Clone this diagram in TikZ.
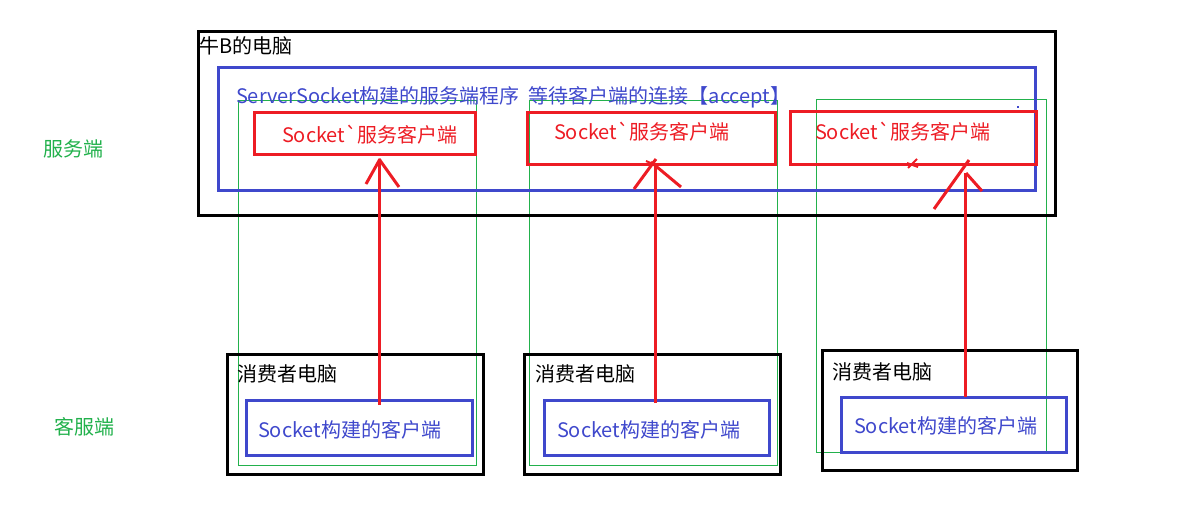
\documentclass[tikz,border=0pt]{standalone}
\usepackage{fontspec}
\newfontfamily\cjk{Noto Sans CJK SC}
\definecolor{pblue}{HTML}{3F48CC}
\definecolor{pred}{HTML}{ED1C24}
\definecolor{pgreen}{HTML}{22B14C}
\begin{document}
\begin{tikzpicture}[x=1pt,y=-1pt,
  every node/.style={inner sep=0pt,outer sep=0pt},
  machine/.style={draw=black,line width=3pt},
  program/.style={draw=pblue,line width=3pt},
  conn/.style={draw=pred,line width=3pt},
  zone/.style={draw=pgreen,line width=1pt},
  txt/.style={anchor=base west,font=\cjk\fontsize{20}{24}\selectfont},
  stroke/.style={draw=pred,line width=3pt}
]
\useasboundingbox (0,0) rectangle (1200,507);

% thin green outlines grouping each client with its server socket
\node[zone,minimum width=238,minimum height=365] (g1) at (357.5,283) {};
\node[zone,minimum width=248,minimum height=365] (g2) at (653.5,283) {};
\node[zone,minimum width=230,minimum height=353] (g3) at (931.5,276) {};

% server machine and its program
\node[machine,minimum width=857,minimum height=184] (server) at (626.5,123) {};
\node[program,minimum width=817,minimum height=123.5] (srvprog) at (627,128.75) {};
\node[txt,text=black] (servertitle) at (199,53) {牛B的电脑};
\node[txt,text=pblue] (progtitle) at (236,103.5) {ServerSocket构建的服务端程序\ \ 等待客户端的连接【accept】};

% per-connection sockets on the server side
\node[conn,minimum width=221,minimum height=42.5] (s1) at (364.5,133.25) {};
\node[conn,minimum width=248,minimum height=52] (s2) at (651,138) {};
\node[conn,minimum width=246.5,minimum height=52.5] (s3) at (913.25,137.75) {};
\node[txt,text=pred] (s1t) at (282,142.5) {Socket`服务客户端};
\node[txt,text=pred] (s2t) at (554,139) {Socket`服务客户端};
\node[txt,text=pred] (s3t) at (815,139) {Socket`服务客户端};

% consumer machines
\node[machine,minimum width=256,minimum height=120] (m1) at (355,414) {};
\node[machine,minimum width=255.5,minimum height=120] (m2) at (652.25,414) {};
\node[machine,minimum width=255.5,minimum height=120] (m3) at (949.75,410.5) {};
\node[txt,text=black] (m1t) at (237,381.5) {消费者电脑};
\node[txt,text=black] (m2t) at (535,381.5) {消费者电脑};
\node[txt,text=black] (m3t) at (832,379) {消费者电脑};

% client programs
\node[program,minimum width=225.5,minimum height=55] (c1) at (359.25,428) {};
\node[program,minimum width=224.5,minimum height=55] (c2) at (656.75,428) {};
\node[program,minimum width=225,minimum height=55] (c3) at (954,425) {};
\node[txt,text=pblue] (c1t) at (258,437) {Socket构建的客户端};
\node[txt,text=pblue] (c2t) at (557,437) {Socket构建的客户端};
\node[txt,text=pblue] (c3t) at (854,433.5) {Socket构建的客户端};

% side labels
\node[txt,text=pgreen] (lserver) at (43,156.5) {服务端};
\node[txt,text=pgreen] (lclient) at (54,434.5) {客服端};

% connection arrows, hand drawn heads
\coordinate (a1b) at (379,405);
\coordinate (a1t) at (379,160);
\coordinate (a2b) at (655,403);
\coordinate (a2t) at (655,163);
\coordinate (a3b) at (965,397);
\coordinate (a3t) at (965,173);
\draw[stroke] (a1b) -- (a1t);
\draw[stroke] (366,184) -- (380,159);
\draw[stroke] (379,159) -- (399,187);
\draw[stroke] (a2b) -- (a2t);
\draw[stroke] (634,189) -- (656,159);
\draw[stroke] (651,162) -- (681,187);
\draw[stroke,line width=2pt] (646,161) -- (653,164);
\draw[stroke] (a3b) -- (a3t);
\draw[stroke] (934,209) -- (969,160);
\draw[stroke] (966,173) -- (982,191);
\draw[stroke,line width=2pt] (908,168) -- (917,159);
\draw[stroke,line width=2pt] (907,163) -- (918,167);

% stray dot
\fill[pblue] (1017,106) rectangle (1019,108);
\end{tikzpicture}
\end{document}
